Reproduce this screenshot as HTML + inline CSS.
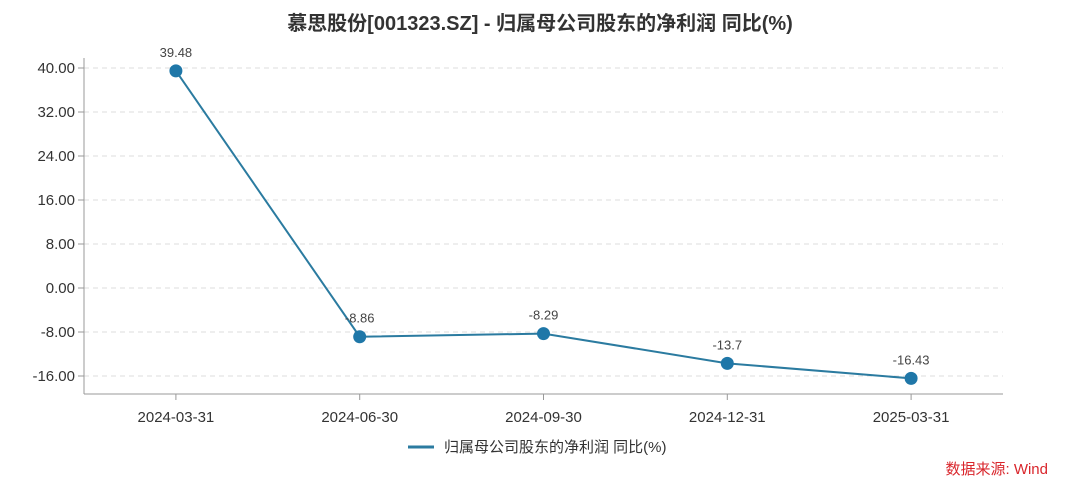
<!DOCTYPE html>
<html><head><meta charset="utf-8"><style>
html,body{margin:0;padding:0;background:#fff;width:1080px;height:489px;overflow:hidden}
svg text{font-family:"Liberation Sans","Noto Sans CJK SC",sans-serif}
</style></head><body>
<svg id="c" width="1080" height="489">
<text x="540" y="30" text-anchor="middle" font-size="20" font-weight="bold" fill="#333">慕思股份[001323.SZ] - 归属母公司股东的净利润 同比(%)</text>
<g>
<line x1="408" y1="447" x2="434" y2="447" stroke="#2b7ba0" stroke-width="3"/>
<text x="444" y="452" font-size="15" fill="#333">归属母公司股东的净利润 同比(%)</text>
</g>
<text x="1048" y="474" text-anchor="end" font-size="15" fill="#d9262c">数据来源: Wind</text>
</svg>
<script>
const categories=["2024-03-31","2024-06-30","2024-09-30","2024-12-31","2025-03-31"];
const values=[39.48,-8.86,-8.29,-13.7,-16.43];
const yTicks=[40,32,24,16,8,0,-8,-16];
const NS="http://www.w3.org/2000/svg";
const svg=document.getElementById('c');
const L=84,R=1003,B=394,bw=(R-L)/categories.length;
function xs(i){return L+bw*(i+0.5);}
function ys(v){return 288-v*5.5;}
function mk(t,a,p){const e=document.createElementNS(NS,t);for(const k in a)e.setAttribute(k,a[k]);(p||svg).appendChild(e);return e;}
yTicks.forEach(v=>{
 const g=mk('line',{x1:L,x2:R,y1:ys(v),y2:ys(v),stroke:'#ddd','stroke-dasharray':'5,4'});
 
 
 const tk=mk('line',{x1:L-6,x2:L,y1:ys(v),y2:ys(v),stroke:'#999'});
 
 
 const t=mk('text',{x:L-9,y:ys(v)+5,'text-anchor':'end','font-size':15,fill:'#333'});
 t.textContent=v.toFixed(2);
 
 
});
const ya=mk('line',{x1:L,x2:L,y1:58,y2:B,stroke:'#999'});


const xa=mk('line',{x1:L,x2:R,y1:B,y2:B,stroke:'#999'});


categories.forEach((c,i)=>{
 const tk=mk('line',{x1:xs(i),x2:xs(i),y1:B,y2:B+6,stroke:'#999'});
 
 
 const t=mk('text',{x:xs(i),y:B+28,'text-anchor':'middle','font-size':15,fill:'#333'});
 t.textContent=c;
 
 
});
const pl=mk('polyline',{points:values.map((v,i)=>xs(i)+','+ys(v)).join(' '),fill:'none',stroke:'#2b7ba0','stroke-width':2});


values.forEach((v,i)=>{
 const p=mk('circle',{cx:xs(i),cy:ys(v),r:6.5,fill:'#1f77a8'});
 
 
 const t=mk('text',{x:xs(i),y:ys(v)-14,'text-anchor':'middle','font-size':13,fill:'#444'});
 t.textContent=String(v);
 
 
});
</script>
</body></html>
